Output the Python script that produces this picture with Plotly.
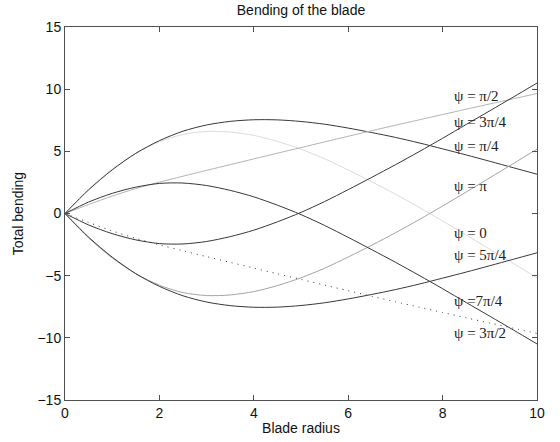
import plotly.graph_objects as go

# Blade radius samples
radius = [0, 0.5, 1, 1.5, 2, 2.5, 3, 3.5, 4, 4.5, 5, 5.5, 6, 6.5, 7, 7.5, 8, 8.5, 9, 9.5, 10]

# Total bending for each azimuth angle psi
psi_0 = [0, 1.96, 3.57, 4.84, 5.77, 6.36, 6.60, 6.55, 6.28, 5.80, 5.17, 4.40, 3.50, 2.55, 1.55, 0.50, -0.60, -1.73, -2.87, -4.02, -5.18]
psi_pi4 = [0, 1.90, 3.51, 4.84, 5.86, 6.62, 7.12, 7.41, 7.54, 7.53, 7.40, 7.18, 6.87, 6.51, 6.12, 5.68, 5.20, 4.71, 4.20, 3.68, 3.16]
psi_pi2 = [0, 0.72, 1.40, 2.00, 2.52, 3.00, 3.47, 3.93, 4.39, 4.85, 5.30, 5.76, 6.21, 6.66, 7.10, 7.53, 7.96, 8.39, 8.81, 9.23, 9.65]
psi_3pi4 = [0, -0.92, -1.62, -2.12, -2.42, -2.45, -2.25, -1.86, -1.34, -0.67, 0.09, 0.96, 1.92, 2.91, 3.92, 4.97, 6.05, 7.16, 8.26, 9.37, 10.49]
psi_pi = [0, -1.96, -3.57, -4.84, -5.77, -6.36, -6.60, -6.55, -6.28, -5.80, -5.17, -4.40, -3.50, -2.55, -1.55, -0.50, 0.60, 1.73, 2.87, 4.02, 5.18]
psi_5pi4 = [0, -1.90, -3.51, -4.84, -5.86, -6.62, -7.12, -7.41, -7.54, -7.53, -7.40, -7.18, -6.87, -6.51, -6.12, -5.68, -5.20, -4.71, -4.20, -3.68, -3.16]
psi_3pi2 = [0, -0.72, -1.40, -2.00, -2.52, -3.00, -3.47, -3.93, -4.39, -4.85, -5.30, -5.76, -6.21, -6.66, -7.10, -7.53, -7.96, -8.39, -8.81, -9.23, -9.65]
psi_7pi4 = [0, 0.92, 1.62, 2.12, 2.42, 2.45, 2.25, 1.86, 1.34, 0.67, -0.09, -0.96, -1.92, -2.91, -3.92, -4.97, -6.05, -7.16, -8.26, -9.37, -10.49]

# Curve labels
label_text = ["ψ = π/2", "ψ = 3π/4", "ψ = π/4", "ψ = π", "ψ = 0", "ψ = 5π/4", "ψ =7π/4", "ψ = 3π/2"]
label_x = [8.2] * 8
label_y = [9.47, 7.32, 5.45, 2.23, -1.58, -3.32, -7.02, -9.62]

series = [
    ("ψ = 0", psi_0, "#dcdcdc", "solid"),
    ("ψ = π/4", psi_pi4, "#383838", "solid"),
    ("ψ = π/2", psi_pi2, "#b4b4b4", "solid"),
    ("ψ = 3π/4", psi_3pi4, "#383838", "solid"),
    ("ψ = π", psi_pi, "#a4a4a4", "solid"),
    ("ψ = 5π/4", psi_5pi4, "#383838", "solid"),
    ("ψ = 3π/2", psi_3pi2, "#383838", "1px,5px"),
    ("ψ = 7π/4", psi_7pi4, "#383838", "solid"),
]

SANS = "Liberation Sans, Arial, sans-serif"

fig = go.Figure()
for name, ys, color, dash in series:
    fig.add_trace(go.Scatter(
        x=radius, y=ys, mode="lines", name=name,
        line=dict(color=color, width=1, dash=dash, shape="spline", smoothing=0.8),
        showlegend=False, hoverinfo="skip",
    ))

for t, lx, ly in zip(label_text, label_x, label_y):
    fig.add_annotation(
        x=lx, y=ly, text=t, showarrow=False, xanchor="left", yanchor="middle",
        font=dict(family="Liberation Serif, Times New Roman, serif", size=15, color="#202020"),
    )

axis_common = dict(
    showgrid=False, zeroline=False, showline=True, linecolor="#505050", linewidth=1,
    mirror="allticks", ticks="inside", ticklen=5, tickcolor="#505050", automargin=False,
    tickfont=dict(family=SANS, size=14, color="#111111"),
)

fig.update_layout(
    width=560, height=442,
    margin=dict(l=65, r=23, t=27, b=42),
    paper_bgcolor="white", plot_bgcolor="white",
    title=dict(text="Bending of the blade", x=0.5, xref="paper", xanchor="center",
               y=1 - 10 / 442, yref="container", yanchor="middle", automargin=False,
               font=dict(family=SANS, size=14, color="#111111")),
    xaxis=dict(range=[0, 10], tickvals=[0, 2, 4, 6, 8, 10],
               title=dict(text="Blade radius", standoff=3,
                          font=dict(family=SANS, size=14, color="#111111")),
               **axis_common),
    yaxis=dict(range=[-15, 15], tickvals=[-15, -10, -5, 0, 5, 10, 15],
               title=dict(text="Total bending", standoff=10,
                          font=dict(family=SANS, size=14, color="#111111")),
               **axis_common),
)

fig.write_html("out.html", config={"displayModeBar": False},
               post_script="document.body.style.margin='0';")
